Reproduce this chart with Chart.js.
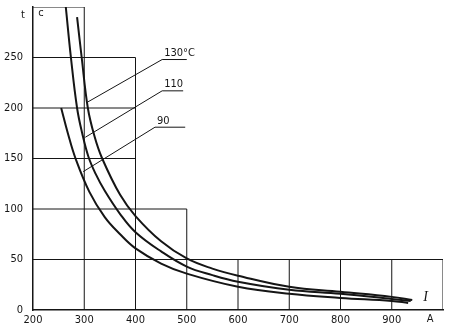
<!DOCTYPE html>
<html>
<head>
<meta charset="utf-8">
<script src="https://cdn.jsdelivr.net/npm/chart.js@4/dist/chart.umd.min.js"></script>
<style>
  html, body { margin: 0; padding: 0; background: #fff; }
  #chart { display: block; }
</style>
</head>
<body>
<canvas id="chart" width="450" height="331"></canvas>
<script>
// Кривые t(I): ток I, А и время t, с
const current130 = [286, 295, 307, 320, 335, 370, 400, 450, 500, 550, 600, 700, 800, 900, 940];
const time130 = [290, 250, 200, 172, 150, 114, 93, 68, 51, 41, 34, 23, 18, 13, 10];

const current110 = [264, 274, 286, 296, 308, 322, 340, 370, 400, 450, 500, 550, 600, 700, 800, 900, 937];
const time110 = [300, 250, 200, 175, 152, 135, 118, 95, 77, 58, 43, 34.5, 28, 20, 16, 11, 9];

const current90 = [255, 268, 283, 310, 340, 370, 400, 450, 500, 600, 700, 800, 900, 932];
const time90 = [200, 175, 150, 117, 92, 75, 61, 46, 36, 23, 16, 12, 9, 7];

// Подписи кривых и выноски (точка на кривой, излом, конец полки)
const curveLabels = ["130°C", "110", "90"];
const leaderI = [[307, 452, 500], [302, 452, 493], [298, 438, 497]];
const leaderT = [[206, 248, 248], [171, 217, 217], [137, 181, 181]];

// Ступенчатая сетка: горизонтали [t, от I, до I] и вертикали [I, от t, до t]
const gridRows = [[300, 200, 300], [250, 200, 400], [200, 200, 400], [150, 200, 400], [100, 200, 500], [50, 200, 1000]];
const gridCols = [[300, 0, 300], [400, 0, 250], [500, 0, 100], [600, 0, 50], [700, 0, 50], [800, 0, 50], [900, 0, 50], [1000, 0, 50]];

// Деления осей
const xTicks = [200, 300, 400, 500, 600, 700, 800, 900];
const yTicks = [0, 50, 100, 150, 200, 250];

const ink = "#151515";
const font = '"Liberation Sans Narrow", "DejaVu Sans Condensed", "Liberation Sans", sans-serif';

function toPoints(xs, ys) {
    return xs.map((x, i) => ({ x: x, y: ys[i] }));
}

function segment(points, width) {
    return {
        data: points,
        showLine: true,
        borderColor: ink,
        borderWidth: width,
        pointRadius: 0,
        tension: 0
    };
}

const datasets = [];

// Сетка
gridRows.forEach(([t, i1, i2]) => datasets.push(segment([{ x: i1, y: t }, { x: i2, y: t }], 1)));
gridCols.forEach(([i, t1, t2]) => datasets.push(segment([{ x: i, y: t1 }, { x: i, y: t2 }], 1)));

// Выноски
leaderI.forEach((xs, k) => datasets.push(segment(toPoints(xs, leaderT[k]), 1)));

// Кривые
[[current130, time130], [current110, time110], [current90, time90]].forEach(([xs, ys]) => {
    datasets.push({
        data: toPoints(xs, ys),
        showLine: true,
        borderColor: ink,
        borderWidth: 2,
        pointRadius: 0,
        tension: 0.4
    });
});

// Надписи поверх графика
const textPlugin = {
    id: "texts",
    afterDraw(chart) {
        const { ctx, chartArea, scales: { x, y } } = chart;
        ctx.save();
        ctx.fillStyle = ink;
        ctx.font = "11px " + font;
        ctx.textAlign = "left";
        ctx.textBaseline = "bottom";
        curveLabels.forEach((label, k) => {
            ctx.fillText(label, x.getPixelForValue(leaderI[k][1]) + 2, y.getPixelForValue(leaderT[k][1]) - 1);
        });

        // Обозначения осей
        ctx.textAlign = "center";
        ctx.textBaseline = "middle";
        ctx.fillText("t", chartArea.left - 10, chartArea.top + 8);
        ctx.fillText("с", chartArea.left + 8, chartArea.top + 6);
        ctx.textBaseline = "top";
        ctx.fillText("А", x.getPixelForValue(975), chartArea.bottom + 4);

        ctx.font = "italic 14px \"Liberation Serif\", \"DejaVu Serif\", serif";
        ctx.textBaseline = "middle";
        ctx.fillText("I", x.getPixelForValue(966), y.getPixelForValue(13));
        ctx.restore();
    }
};

new Chart(document.getElementById("chart"), {
    type: "scatter",
    data: { datasets: datasets },
    options: {
        responsive: false,
        animation: false,
        layout: { padding: { top: 7, right: 7, left: 0, bottom: 0 } },
        plugins: {
            legend: { display: false },
            tooltip: { enabled: false }
        },
        scales: {
            x: {
                type: "linear",
                min: 200,
                max: 1000,
                afterBuildTicks: (scale) => { scale.ticks = xTicks.map((v) => ({ value: v })); },
                afterFit: (scale) => {
                    scale.height = 21;
                    scale.paddingLeft = 0;
                    scale.paddingRight = 0;
                },
                grid: { display: false, drawTicks: false },
                border: { display: true, color: ink, width: 1.5 },
                ticks: { color: ink, padding: 4, maxRotation: 0, autoSkip: false, font: { family: font, size: 11 } }
            },
            y: {
                type: "linear",
                min: 0,
                max: 300,
                afterBuildTicks: (scale) => { scale.ticks = yTicks.map((v) => ({ value: v })); },
                afterFit: (scale) => {
                    scale.width = 33;
                    scale.paddingTop = 0;
                    scale.paddingBottom = 0;
                },
                grid: { display: false, drawTicks: false },
                border: { display: true, color: ink, width: 1.5 },
                ticks: { color: ink, padding: 10, font: { family: font, size: 11 } }
            }
        }
    },
    plugins: [textPlugin]
});
</script>
</body>
</html>
